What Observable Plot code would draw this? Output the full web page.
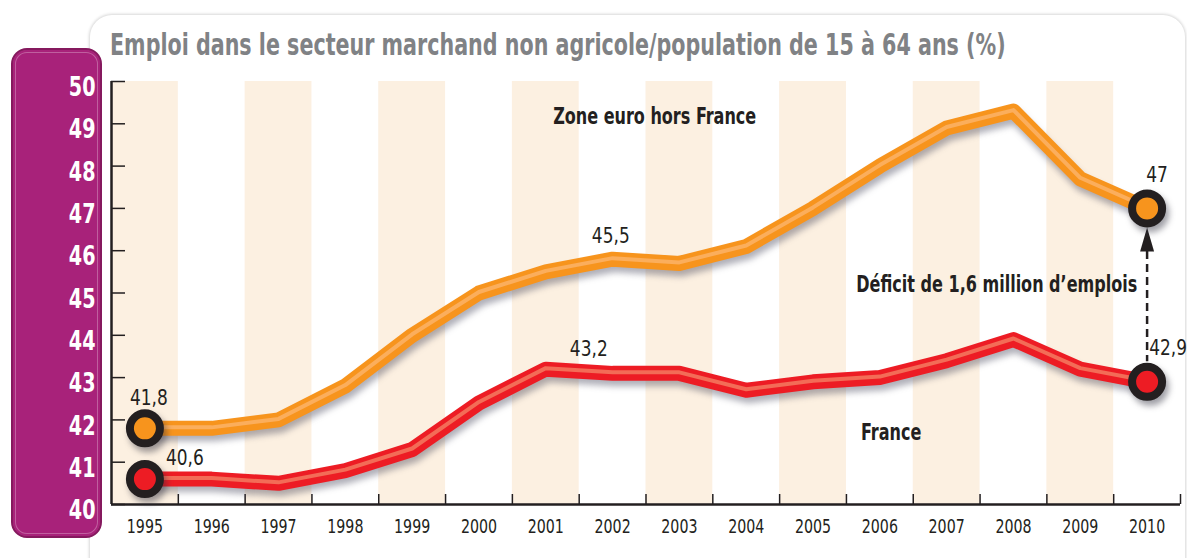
<!DOCTYPE html>
<html>
<head>
<meta charset="utf-8">
<script src="https://cdn.jsdelivr.net/npm/d3@7"></script>
<script src="https://cdn.jsdelivr.net/npm/@observablehq/plot@0.6"></script>
<style>
  body { margin: 0; background: #fff; }
  #wrap { position: relative; width: 1187px; height: 558px; overflow: hidden;
          font-family: "DejaVu Sans Condensed", "Liberation Sans Narrow", sans-serif; }
  #card { position: absolute; left: 90px; top: 15px; width: 1095px; height: 620px; background: #fff;
          border-radius: 22px; box-shadow: 0 0 3px 1px rgba(0,0,0,0.16); }
  #ybox { position: absolute; left: 11px; top: 48px; width: 91px; height: 490px; box-sizing: border-box;
          background: #A8227A; border: 2px solid #85195E; border-radius: 16px;
          box-shadow: inset 0 0 0 2px #A8227A, inset 0 0 0 3px rgba(255,255,255,0.28); }
  #title { position: absolute; left: 0; top: 0; }
  #chart { position: absolute; left: 0; top: 0; }
</style>
</head>
<body>
<div id="wrap">
  <div id="card"></div>
  <div id="ybox"></div>
  <svg id="title" width="1187" height="80">
    <text id="titleText" font-size="30" font-weight="bold" fill="#808285"
      font-family='"DejaVu Sans Condensed", "Liberation Sans Narrow", sans-serif'>Emploi dans le secteur marchand non agricole/population de 15 à 64 ans (%)</text>
  </svg>
  <div id="chart"></div>
</div>
<script>
// ---- data ----
const years = [1995,1996,1997,1998,1999,2000,2001,2002,2003,2004,2005,2006,2007,2008,2009,2010];
const zoneEuro = [41.8,41.8,42.0,42.8,44.0,45.0,45.5,45.8,45.7,46.1,47.0,48.0,48.9,49.3,47.7,47.0];
const france   = [40.6,40.6,40.5,40.8,41.3,42.4,43.2,43.1,43.1,42.7,42.9,43.0,43.4,43.9,43.2,42.9];
const yTicks = [40,41,42,43,44,45,46,47,48,49,50];
const shadedYears = [1995,1997,1999,2001,2003,2005,2007,2009];
const seriesNames = ["Zone euro hors France", "France"];
const annotationDeficit = "Déficit de 1,6 million d’emplois";

// ---- build tables ----
const zoneRows = years.map((year, i) => ({year, value: zoneEuro[i]}));
const franceRows = years.map((year, i) => ({year, value: france[i]}));
const boundaries = years.map(y => y + 0.5);
const fmt = v => String(v).replace(".", ",");
const ink = "#231F20";
const font = '"DejaVu Sans Condensed", "Liberation Sans Narrow", sans-serif';

const ends = rows => [rows[0], rows[rows.length - 1]];
const pick = (rows, yr) => rows.filter(d => d.year === yr);

const arrowHead = {
  draw(ctx) { ctx.moveTo(0, 0); ctx.lineTo(7, 24); ctx.lineTo(-7, 24); ctx.closePath(); }
};

function seriesMarks(rows, outer, inner) {
  return [
    Plot.line(rows, {x: "year", y: "value", stroke: "#3a3a50", strokeOpacity: 0.4, strokeWidth: 14,
      dx: 2, dy: 6, strokeLinejoin: "round", ariaDescription: "shadow"}),
    Plot.line(rows, {x: "year", y: "value", stroke: outer, strokeWidth: 15, strokeLinejoin: "round"}),
    Plot.line(rows, {x: "year", y: "value", stroke: inner, strokeWidth: 4, dy: -1, strokeLinejoin: "round"})
  ];
}

function dotMarks(rows, fill) {
  return [
    Plot.dot(ends(rows), {x: "year", y: "value", r: 19, fill: "#2a2a3a", fillOpacity: 0.45, dx: 3, dy: 5, ariaDescription: "shadow"}),
    Plot.dot(ends(rows), {x: "year", y: "value", r: 15, fill, stroke: ink, strokeWidth: 8})
  ];
}

function valueLabel(rows, yr, dx, dy) {
  return Plot.text(pick(rows, yr), {x: "year", y: "value", text: d => fmt(d.value), dx, dy,
    fontSize: 21, fill: ink, fontFamily: font, ariaDescription: "values"});
}

const annot = (label, x, y) => Plot.text([label], {x, y, text: d => d, fontSize: 23, fontWeight: "bold",
  fill: ink, fontFamily: font, ariaDescription: "annot"});

const chart = Plot.plot({
  width: 1187,
  height: 558,
  marginLeft: 111,
  marginRight: 7,
  marginTop: 81,
  marginBottom: 54,
  style: {background: "transparent", fontFamily: font, overflow: "visible"},
  x: {domain: [1994.5, 2010.5], axis: null},
  y: {domain: [40, 50], axis: null},
  marks: [
    Plot.rect(shadedYears, {x1: d => d - 0.5, x2: d => d + 0.5, y1: yTicks[0], y2: yTicks[yTicks.length - 1], fill: "#FCF0E1"}),
    // axes
    Plot.tickY(yTicks, {y: d => d, stroke: ink, strokeWidth: 1.5, insetRight: 1055}),
    Plot.tickX(boundaries, {x: d => d, stroke: ink, strokeWidth: 1.5, insetTop: 413}),
    Plot.ruleX([1994.5], {stroke: ink, strokeWidth: 2.5}),
    Plot.ruleY([40], {stroke: ink, strokeWidth: 2.5}),
    Plot.text(yTicks, {y: d => d, text: d => String(d), frameAnchor: "left", textAnchor: "end", dx: -16, dy: 6,
      fill: "#fff", fontSize: 27, fontWeight: "bold", fontFamily: font, ariaDescription: "ylabels"}),
    Plot.text(years, {x: d => d, text: d => String(d), frameAnchor: "bottom", dy: 28, fill: ink, fontSize: 20,
      fontFamily: font, ariaDescription: "years"}),
    // series
    ...seriesMarks(zoneRows, "#F7941D", "#FBAE5C"),
    ...seriesMarks(franceRows, "#ED1C24", "#F36C57"),
    // deficit arrow
    Plot.ruleX([{year: 2010, lo: france[france.length - 1], hi: zoneEuro[zoneEuro.length - 1]}],
      {x: "year", y1: "hi", y2: "lo", stroke: ink, strokeWidth: 2.5, strokeDasharray: "8,5", insetTop: 43, insetBottom: 20}),
    Plot.dot(pick(zoneRows, 2010), {x: "year", y: "value", symbol: arrowHead, fill: ink, dy: 19}),
    ...dotMarks(zoneRows, "#F7941D"),
    ...dotMarks(franceRows, "#ED1C24"),
    // value labels
    valueLabel(zoneRows, 1995, 4, -30),
    valueLabel(franceRows, 1995, 40, -21),
    valueLabel(zoneRows, 2001, 65, -36),
    valueLabel(franceRows, 2001, 43, -20),
    valueLabel(zoneRows, 2010, 10, -33),
    valueLabel(franceRows, 2010, 21, -34),
    // annotations
    annot(seriesNames[0], 2002.63, 49.17),
    annot(seriesNames[1], 2006.17, 41.70),
    annot(annotationDeficit, 2007.75, 45.2)
  ]
});

chart.querySelectorAll('g[aria-description="shadow"]').forEach(g => g.style.filter = "blur(3px)");
document.getElementById("chart").appendChild(chart);

// condense text horizontally to mimic the narrow typeface of the original
function condense(texts, k) {
  texts.forEach(t => {
    const tr = t.getAttribute("transform") || "";
    t.setAttribute("transform", `${tr} scale(${k},1)`);
  });
}
condense(chart.querySelectorAll('g[aria-description="ylabels"] text'), 0.79);
condense(chart.querySelectorAll('g[aria-description="years"] text'), 0.79);
condense(chart.querySelectorAll('g[aria-description="values"] text'), 0.9);
condense(chart.querySelectorAll('g[aria-description="annot"] text'), 0.775);
const tt = document.getElementById("titleText");
const tw = tt.getComputedTextLength();
tt.setAttribute("transform", `translate(110,55) scale(${(896 / tw).toFixed(4)},1)`);
</script>
</body>
</html>
